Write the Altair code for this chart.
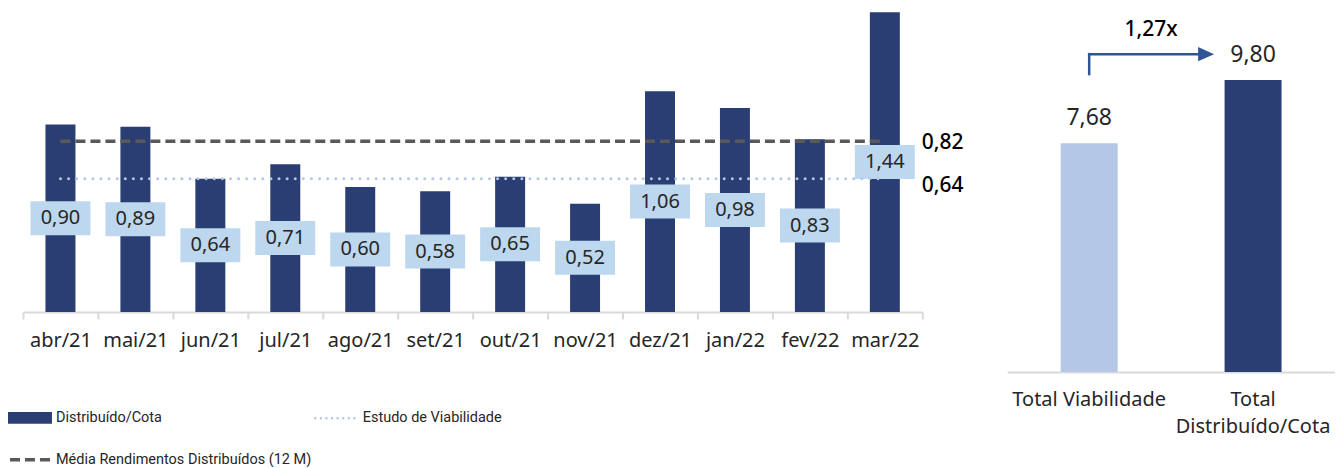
import altair as alt
import pandas as pd

# ---------------- data ----------------
MONTHS = ["abr/21", "mai/21", "jun/21", "jul/21", "ago/21", "set/21",
          "out/21", "nov/21", "dez/21", "jan/22", "fev/22", "mar/22"]
DISTRIBUIDO = [0.90, 0.89, 0.64, 0.71, 0.60, 0.58, 0.65, 0.52, 1.06, 0.98, 0.83, 1.44]
MEDIA_12M = 0.82
VIABILIDADE = 0.64

TOTAL_CATS = ["Total Viabilidade", "Total Distribuído/Cota"]
TOTAL_VALUES = [7.68, 9.80]
RATIO_LABEL = "1,27x"

SERIE_BAR = "Distribuído/Cota"
SERIE_VIAB = "Estudo de Viabilidade"
SERIE_MEDIA = "Média Rendimentos Distribuídos (12 M)"

# annotation levels (data units of the right panel)
ARROW_BASE = 10.0
ARROW_LEVEL = 10.67
RATIO_LEVEL = 11.48

# ---------------- styles ----------------
NAVY = "#2B3E74"
BOX = "#BDD7EE"
LIGHT_BAR = "#B4C7E7"
DOT = "#B4C7E7"
GREY = "#595959"
ARROW = "#2F5597"
TEXT = "#262626"
AXIS = "#D9D9D9"
FONT = "Noto Sans"
LEGEND_FONT = "Roboto"
LEGEND_SIZE = 14.5


def br(v):
    return f"{v:.2f}".replace(".", ",")


bars_df = pd.DataFrame({
    "mes": MONTHS,
    "valor": DISTRIBUIDO,
    "label": [br(v) for v in DISTRIBUIDO],
    "serie": SERIE_BAR,
})
lines_df = pd.DataFrame({
    "serie": [SERIE_MEDIA, SERIE_VIAB],
    "inicio": [MONTHS[0], MONTHS[0]],
    "fim": [MONTHS[-1], MONTHS[-1]],
    "valor": [MEDIA_12M, VIABILIDADE],
    "label": [br(MEDIA_12M), br(VIABILIDADE)],
})
tot_df = pd.DataFrame({
    "cat": TOTAL_CATS,
    "valor": TOTAL_VALUES,
    "label": [br(v) for v in TOTAL_VALUES],
})
arrow_df = pd.DataFrame({
    "de": [TOTAL_CATS[0]],
    "para": [TOTAL_CATS[1]],
    "base": [ARROW_BASE],
    "nivel": [ARROW_LEVEL],
    "topo": [RATIO_LEVEL],
    "label": [RATIO_LABEL],
})

# ---------------- left panel ----------------
x_scale = alt.Scale(domain=MONTHS, paddingInner=0, paddingOuter=0)
y_scale = alt.Scale(domain=[0, 1.44], nice=False)

x_axis = alt.Axis(title=None, labelAngle=0, labelFont=FONT, labelFontSize=20,
                  labelColor=TEXT, domainColor=AXIS, domainWidth=2,
                  tickColor=AXIS, tickWidth=2, tickSize=7, tickBand="extent",
                  labelPadding=12, grid=False)


def xm(field):
    return alt.X(f"{field}:N", sort=MONTHS, scale=x_scale, axis=x_axis, title=None)


def ym(field):
    return alt.Y(f"{field}:Q", scale=y_scale, axis=None)


def leg(x, y, offset=5, **kw):
    return alt.Legend(orient="none", legendX=x, legendY=y, title=None,
                      labelFont=LEGEND_FONT, labelFontSize=LEGEND_SIZE,
                      labelColor=TEXT, labelOffset=offset, labelLimit=400, **kw)


bars = alt.Chart(bars_df).mark_bar(width=30).encode(
    x=xm("mes"),
    y=ym("valor"),
    color=alt.Color("serie:N",
                    scale=alt.Scale(domain=[SERIE_BAR], range=[NAVY]),
                    legend=leg(-15, 384, offset=4,
                               symbolType="M-1,-0.27L1,-0.27L1,0.27L-1,0.27Z",
                               symbolSize=1936, symbolStrokeWidth=0)),
)

boxes = alt.Chart(bars_df).transform_calculate(mid="datum.valor / 2").mark_bar(
    width=60, color=BOX, yOffset=-17, y2Offset=17
).encode(x=xm("mes"), y=ym("mid"), y2="mid:Q")

box_text = alt.Chart(bars_df).transform_calculate(mid="datum.valor / 2").mark_text(
    font=FONT, fontSize=20, color=TEXT, baseline="middle"
).encode(x=xm("mes"), y=ym("mid"), text="label:N")

dotted = alt.Chart(lines_df).transform_filter(alt.datum.serie == SERIE_VIAB).mark_rule(
    strokeWidth=3, strokeDash=[0.1, 8], strokeCap="round"
).encode(
    x=xm("inicio"), x2="fim:N", y=ym("valor"),
    stroke=alt.Stroke("serie:N",
                      scale=alt.Scale(domain=[SERIE_VIAB], range=[DOT]),
                      legend=leg(290, 383, offset=3, symbolType="stroke", symbolSize=1936,
                                 symbolStrokeWidth=2.5, symbolDash=[2, 3.6])),
)

dashed = alt.Chart(lines_df).transform_filter(alt.datum.serie == SERIE_MEDIA).mark_rule(
    strokeWidth=3.5, color=GREY
).encode(
    x=xm("inicio"), x2="fim:N", y=ym("valor"),
    strokeDash=alt.StrokeDash("serie:N",
                              scale=alt.Scale(domain=[SERIE_MEDIA], range=[[10, 5]]),
                              legend=leg(-15, 424, offset=0, symbolType="stroke",
                                         symbolSize=1936, symbolStrokeWidth=3.5,
                                         symbolStrokeColor=GREY)),
)

media_txt = alt.Chart(lines_df).transform_filter(alt.datum.serie == SERIE_MEDIA).mark_text(
    align="left", baseline="middle", dx=37, dy=2, font=FONT, fontSize=21,
    fontWeight=500, color="#000000"
).encode(x=xm("fim"), y=ym("valor"), text="label:N")

viab_txt = alt.Chart(lines_df).transform_filter(alt.datum.serie == SERIE_VIAB).mark_text(
    align="left", baseline="middle", dx=37, dy=7, font=FONT, fontSize=21,
    fontWeight=500, color="#000000"
).encode(x=xm("fim"), y=ym("valor"), text="label:N")

left = alt.layer(bars, boxes, dotted, dashed, box_text, media_txt, viab_txt).properties(
    width=900, height=300)

# ---------------- right panel ----------------
ry = alt.Scale(domain=[0, 12.08], nice=False)
rx_scale = alt.Scale(domain=TOTAL_CATS, paddingInner=0, paddingOuter=0)
rx_axis = alt.Axis(title=None, labelAngle=0, labelFont=FONT, labelFontSize=20,
                   labelColor=TEXT, domainColor=AXIS, domainWidth=2, ticks=False,
                   tickSize=0, labelPadding=18, labelLineHeight=27, grid=False,
                   labelExpr="datum.value == 'Total Distribuído/Cota' ? ['Total', 'Distribuído/Cota'] : datum.label")


def rxm(field):
    return alt.X(f"{field}:N", sort=TOTAL_CATS, scale=rx_scale, axis=rx_axis, title=None)


def rym(field):
    return alt.Y(f"{field}:Q", scale=ry, axis=None)


rbars = alt.Chart(tot_df).mark_bar(width=57).encode(
    x=rxm("cat"),
    y=rym("valor"),
    fill=alt.condition(alt.datum.cat == TOTAL_CATS[0], alt.value(LIGHT_BAR), alt.value(NAVY)),
)
rtext = alt.Chart(tot_df).mark_text(
    dy=-25.5, baseline="middle", font=FONT, fontSize=23, color=TEXT
).encode(x=rxm("cat"), y=rym("valor"), text="label:N")

arrow_v = alt.Chart(arrow_df).mark_rule(color=ARROW, strokeWidth=2.5, strokeCap="square").encode(
    x=rxm("de"), y=rym("base"), y2="nivel:Q")
arrow_h = alt.Chart(arrow_df).mark_rule(color=ARROW, strokeWidth=2.5, strokeCap="square",
                                        x2Offset=-55).encode(
    x=rxm("de"), x2="para:N", y=rym("nivel"))
arrow_head = alt.Chart(arrow_df).mark_point(
    shape="M-1,-0.9L1,0L-1,0.9Z", size=256, filled=True, color=ARROW, opacity=1,
    strokeWidth=0, xOffset=-47
).encode(x=rxm("para"), y=rym("nivel"))
ratio_txt = alt.Chart(arrow_df).mark_text(
    dx=62, baseline="middle", font=FONT, fontSize=21, fontWeight=500, color="#000000"
).encode(x=rxm("de"), y=rym("topo"), text="label:N")

right = alt.layer(rbars, rtext, arrow_v, arrow_h, arrow_head, ratio_txt).properties(
    width=328, height=360)

chart = alt.hconcat(left, right, spacing=43).properties(
    padding={"left": 0, "top": 4, "right": 0, "bottom": 0}
).configure(font=FONT).configure_view(stroke=None)

chart.save("out.html", embed_options={"renderer": "svg", "actions": False})
